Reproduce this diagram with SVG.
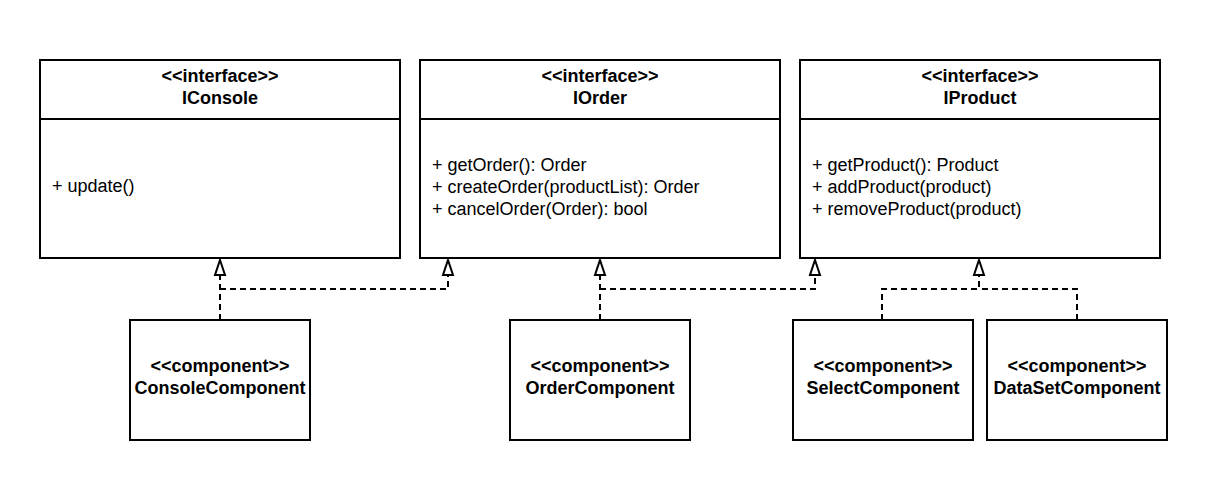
<svg xmlns="http://www.w3.org/2000/svg" width="1223" height="480" viewBox="0 0 1223 480">
<style>
.box{fill:#fff;stroke:#000;stroke-width:2}
.div{stroke:#000;stroke-width:2}
.t{font-family:"Liberation Sans",Arial,sans-serif;font-size:18px;fill:#000}
.b{font-weight:bold;text-anchor:middle}
.c{fill:none;stroke:#000;stroke-width:2;stroke-dasharray:6 4}
.ah{fill:#fff;stroke:#000;stroke-width:2;stroke-linejoin:miter}
</style>
<rect width="1223" height="480" fill="#fff"/>
<g id="IConsole">
<rect class="box" x="40" y="60" width="360" height="198"/>
<line class="div" x1="40" y1="119" x2="400" y2="119"/>
<text class="t b" x="220" y="82">&lt;&lt;interface&gt;&gt;</text>
<text class="t b" x="220" y="104">IConsole</text>
<text class="t" x="52" y="192">+ update()</text>
</g>
<g id="IOrder">
<rect class="box" x="420" y="60" width="360" height="198"/>
<line class="div" x1="420" y1="119" x2="780" y2="119"/>
<text class="t b" x="600" y="82">&lt;&lt;interface&gt;&gt;</text>
<text class="t b" x="600" y="104">IOrder</text>
<text class="t" x="432" y="171">+ getOrder(): Order</text>
<text class="t" x="432" y="193">+ createOrder(productList): Order</text>
<text class="t" x="432" y="215">+ cancelOrder(Order): bool</text>
</g>
<g id="IProduct">
<rect class="box" x="800" y="60" width="360" height="198"/>
<line class="div" x1="800" y1="119" x2="1160" y2="119"/>
<text class="t b" x="980" y="82">&lt;&lt;interface&gt;&gt;</text>
<text class="t b" x="980" y="104">IProduct</text>
<text class="t" x="812" y="171">+ getProduct(): Product</text>
<text class="t" x="812" y="193">+ addProduct(product)</text>
<text class="t" x="812" y="215">+ removeProduct(product)</text>
</g>
<g id="ConsoleComponent">
<rect class="box" x="130" y="320" width="180" height="120"/>
<text class="t b" x="220" y="372">&lt;&lt;component&gt;&gt;</text>
<text class="t b" x="220" y="394">ConsoleComponent</text>
</g>
<g id="OrderComponent">
<rect class="box" x="510" y="320" width="180" height="120"/>
<text class="t b" x="600" y="372">&lt;&lt;component&gt;&gt;</text>
<text class="t b" x="600" y="394">OrderComponent</text>
</g>
<g id="SelectComponent">
<rect class="box" x="793" y="320" width="180" height="120"/>
<text class="t b" x="883" y="372">&lt;&lt;component&gt;&gt;</text>
<text class="t b" x="883" y="394">SelectComponent</text>
</g>
<g id="DataSetComponent">
<rect class="box" x="987" y="320" width="180" height="120"/>
<text class="t b" x="1077" y="372">&lt;&lt;component&gt;&gt;</text>
<text class="t b" x="1077" y="394">DataSetComponent</text>
</g>
<g id="connectors">
<path class="c" d="M220 320 V276"/>
<path class="c" d="M220 289 H448 V276"/>
<path class="c" d="M600 320 V276"/>
<path class="c" d="M600 289 H815 V276"/>
<path class="c" d="M882 320 V289 H979 V276"/>
<path class="c" d="M1077 320 V289 H979"/>
<path class="ah" d="M220 260 L225 275 L215 275 Z"/>
<path class="ah" d="M448 260 L453 275 L443 275 Z"/>
<path class="ah" d="M600 260 L605 275 L595 275 Z"/>
<path class="ah" d="M815 260 L820 275 L810 275 Z"/>
<path class="ah" d="M979 260 L984 275 L974 275 Z"/>
</g>
</svg>
